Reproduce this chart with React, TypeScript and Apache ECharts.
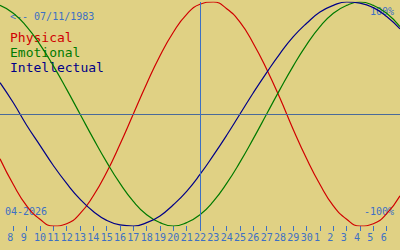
import React, { useEffect, useRef } from "react";
import * as echarts from "echarts";

// Days shown (April 7 .. May 7, 2026)
const dates = [
  "04-07", "04-08", "04-09", "04-10", "04-11", "04-12", "04-13", "04-14", "04-15", "04-16",
  "04-17", "04-18", "04-19", "04-20", "04-21", "04-22", "04-23", "04-24", "04-25", "04-26",
  "04-27", "04-28", "04-29", "04-30", "05-01", "05-02", "05-03", "05-04", "05-05", "05-06",
  "05-07",
];

const physical = [
  -0.4, -0.63, -0.82, -0.94, -1.0, -0.98, -0.89, -0.73, -0.52, -0.27,
  0.0, 0.27, 0.52, 0.73, 0.89, 0.98, 1.0, 0.94, 0.82, 0.63,
  0.4, 0.14, -0.14, -0.4, -0.63, -0.82, -0.94, -1.0, -0.98, -0.89,
  -0.73,
];

const emotional = [
  0.97, 0.9, 0.78, 0.62, 0.43, 0.22, 0.0, -0.22, -0.43, -0.62,
  -0.78, -0.9, -0.97, -1.0, -0.97, -0.9, -0.78, -0.62, -0.43, -0.22,
  0.0, 0.22, 0.43, 0.62, 0.78, 0.9, 0.97, 1.0, 0.97, 0.9,
  0.78,
];

const intellectual = [
  0.28, 0.1, -0.1, -0.28, -0.46, -0.62, -0.76, -0.87, -0.95, -0.99,
  -1.0, -0.97, -0.91, -0.81, -0.69, -0.54, -0.37, -0.19, 0.0, 0.19,
  0.37, 0.54, 0.69, 0.81, 0.91, 0.97, 1.0, 0.99, 0.95, 0.87,
  0.76,
];

const today = "04-22";
const birthLabel = "<-- 07/11/1983";
const monthLabel = "04-2026";
const legendNames = ["Physical", "Emotional", "Intellectual"];

const BG = "#e0d184";
const RED = "#d00000";
const GREEN = "#007a00";
const NAVY = "#000088";
const BLUE = "#3d70c4";
const MID = "#4a6a9a";
const MONO = "'DejaVu Sans Mono', monospace";

export default function App() {
  const ref = useRef<HTMLDivElement>(null);

  useEffect(() => {
    if (!ref.current) return;
    const chart = echarts.init(ref.current, null, { renderer: "svg" });
    const last = dates.length - 1;
    const mkSeries = (name: string, data: number[], color: string, extra: any = {}) => ({
      name,
      type: "line",
      data,
      smooth: true,
      symbol: "none",
      lineStyle: { color, width: 1.2 },
      itemStyle: { color },
      ...extra,
    });
    chart.setOption({
      animation: false,
      backgroundColor: BG,
      grid: { left: 0, right: 0, top: 2, bottom: 24 },
      xAxis: {
        type: "category",
        data: dates,
        boundaryGap: false,
        position: "bottom",
        axisLine: { show: true, onZero: false, lineStyle: { color: BG, opacity: 0 } },
        axisTick: {
          show: true,
          length: 5,
          interval: (i: number) => i > 0 && i < last,
          lineStyle: { color: BLUE, width: 1, opacity: 1 },
        },
        axisLabel: {
          show: true,
          interval: (i: number) => i > 0 && i < last,
          margin: 6,
          color: BLUE,
          fontFamily: MONO,
          fontSize: 10,
          formatter: (v: string) => {
            const d = String(parseInt(v.split("-")[1], 10));
            return d.length === 1 ? d + "\u00a0" : d;
          },
        },
        splitLine: { show: false },
      },
      yAxis: {
        type: "value",
        min: -1,
        max: 1,
        show: false,
      },
      series: [
        mkSeries(legendNames[0], physical, RED, {
          markLine: {
            silent: true,
            symbol: "none",
            label: { show: false },
            data: [
              { yAxis: 0, lineStyle: { color: MID, width: 1, type: "solid" } },
              { xAxis: today, lineStyle: { color: BLUE, width: 1, type: "solid" } },
            ],
          },
        }),
        mkSeries(legendNames[1], emotional, GREEN),
        mkSeries(legendNames[2], intellectual, NAVY),
      ],
      graphic: [
        { type: "text", left: 10, top: 11, style: { text: birthLabel, font: `10px ${MONO}`, fill: BLUE } },
        { type: "text", left: 10, top: 31, style: { text: legendNames[0], font: `13px ${MONO}`, fill: RED } },
        { type: "text", left: 10, top: 46, style: { text: legendNames[1], font: `13px ${MONO}`, fill: GREEN } },
        { type: "text", left: 10, top: 61, style: { text: legendNames[2], font: `13px ${MONO}`, fill: NAVY } },
        { type: "text", right: 6, top: 6, style: { text: "100%", font: `10px ${MONO}`, fill: BLUE } },
        { type: "text", right: 6, top: 206, style: { text: "-100%", font: `10px ${MONO}`, fill: BLUE } },
        { type: "text", left: 5, top: 206, style: { text: monthLabel, font: `10px ${MONO}`, fill: BLUE } },
      ],
    });
    return () => chart.dispose();
  }, []);

  return (
    <div
      ref={ref}
      style={{ position: "fixed", left: 0, top: 0, width: 400, height: 250 }}
    />
  );
}
